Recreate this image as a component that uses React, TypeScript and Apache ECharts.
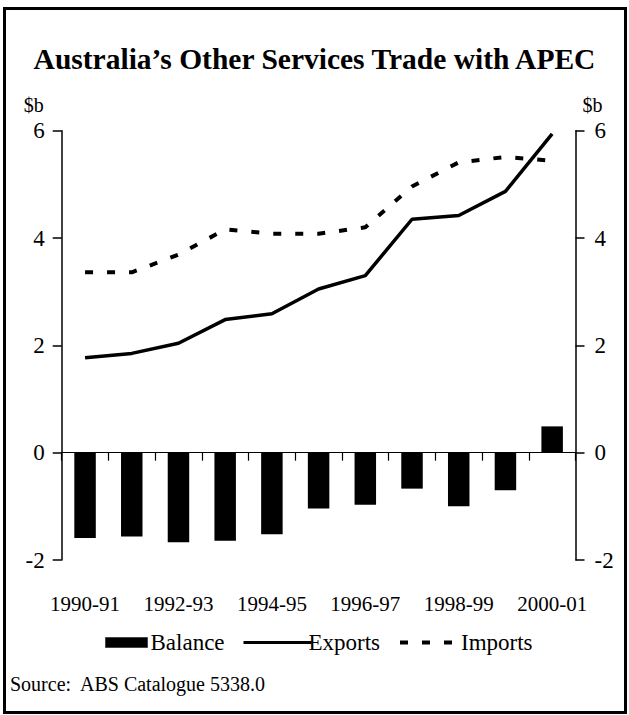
import React, { useEffect, useRef } from "react";
import * as echarts from "echarts";

const categories = [
  "1990-91", "1991-92", "1992-93", "1993-94", "1994-95", "1995-96",
  "1996-97", "1997-98", "1998-99", "1999-00", "2000-01",
];
const balance = [-1.59, -1.56, -1.67, -1.64, -1.52, -1.04, -0.97, -0.67, -1.0, -0.7, 0.49];
const exportsData = [1.77, 1.85, 2.04, 2.48, 2.59, 3.05, 3.3, 4.35, 4.42, 4.87, 5.94];
const importsData = [3.36, 3.36, 3.69, 4.16, 4.08, 4.08, 4.2, 4.96, 5.41, 5.51, 5.44];
const yTicks = { min: -2, max: 6, interval: 2 };

const FONT = '"Liberation Serif", "Times New Roman", serif';

export default function App() {
  const ref = useRef<HTMLDivElement>(null);
  useEffect(() => {
    if (!ref.current) return;
    const chart = echarts.init(ref.current, undefined, { renderer: "svg" });
    const axisText = { fontFamily: FONT, fontSize: 21, color: "#000" };
    const yLabelText = { fontFamily: FONT, fontSize: 23, color: "#000" };
    const legendText = { fontFamily: FONT, fontSize: 23, color: "#000" };
    const yAxisBase = {
      type: "value",
      min: yTicks.min,
      max: yTicks.max,
      interval: yTicks.interval,
      splitLine: { show: false },
      axisLine: { show: true, lineStyle: { color: "#000", width: 1.5 } },
      axisTick: { show: true, length: 9, lineStyle: { color: "#000", width: 1.5 } },
      name: "$b",
      nameLocation: "end",
      nameGap: 16,
    };
    chart.setOption({
      animation: false,
      backgroundColor: "#fff",
      textStyle: { fontFamily: FONT },
      title: {
        text: "Australia\u2019s Other Services Trade with APEC",
        left: "center",
        top: 39,
        textStyle: { fontFamily: FONT, fontSize: 29.5, fontWeight: "bold", color: "#000" },
      },
      graphic: [
        {
          type: "rect",
          shape: { x: 4.5, y: 8.5, width: 621, height: 704 },
          style: { fill: "none", stroke: "#000", lineWidth: 3 },
          silent: true,
        },
        {
          type: "text",
          left: 10,
          top: 674,
          style: { text: "Source:  ABS Catalogue 5338.0", font: `20px ${FONT}`, fill: "#000" },
        },
      ],
      grid: { left: 61.7, right: 53.5, top: 130.7, bottom: 155, containLabel: false },
      legend: [
        {
          data: ["Balance"],
          left: 100,
          top: 626,
          itemWidth: 42,
          itemHeight: 10,
          icon: "rect",
          itemStyle: { borderColor: "#444", borderWidth: 1 },
          textStyle: { ...legendText, padding: [0, 0, 0, -2] },
        },
        {
          data: ["Exports"],
          left: 237,
          top: 626,
          itemWidth: 68,
          itemHeight: 12,
          itemStyle: { opacity: 0 },
          lineStyle: { width: 3 },
          textStyle: { ...legendText, padding: [0, 0, 0, -8] },
        },
        {
          data: ["Imports"],
          left: 393,
          top: 626,
          itemWidth: 62,
          itemHeight: 12,
          itemStyle: { opacity: 0 },
          lineStyle: { width: 4 },
          textStyle: { ...legendText, padding: [0, 0, 0, -6] },
        },
      ],
      xAxis: [
        {
          type: "category",
          data: categories,
          position: "bottom",
          axisLine: { show: true, onZero: true, lineStyle: { color: "#000", width: 1.2 } },
          axisTick: { show: true, interval: 0, length: 8, lineStyle: { color: "#000", width: 1.2 } },
          axisLabel: { show: false },
          splitLine: { show: false },
        },
        {
          type: "category",
          data: categories,
          position: "bottom",
          axisLine: { show: false, onZero: false },
          axisTick: { show: false },
          axisLabel: { ...axisText, interval: 1, margin: 33 },
          splitLine: { show: false },
        },
      ],
      yAxis: [
        {
          ...yAxisBase,
          position: "left",
          axisLabel: { ...yLabelText, margin: 17 },
          nameTextStyle: { ...axisText, fontSize: 20, align: "right", padding: [0, 18, 0, 0] },
        },
        {
          ...yAxisBase,
          position: "right",
          axisLabel: { ...yLabelText, margin: 19 },
          nameTextStyle: { ...axisText, fontSize: 20, align: "left", padding: [0, 0, 0, 7] },
        },
      ],
      series: [
        {
          name: "Balance",
          type: "bar",
          data: balance,
          xAxisIndex: 0,
          yAxisIndex: 0,
          barWidth: "46%",
          itemStyle: { color: "#000", borderColor: "#000", borderWidth: 0 },
        },
        {
          name: "Exports",
          type: "line",
          data: exportsData,
          xAxisIndex: 0,
          yAxisIndex: 0,
          symbol: "none",
          itemStyle: { color: "#000" },
          lineStyle: { color: "#000", width: 3.5 },
        },
        {
          name: "Imports",
          type: "line",
          data: importsData,
          xAxisIndex: 0,
          yAxisIndex: 0,
          symbol: "none",
          itemStyle: { color: "#000" },
          lineStyle: { color: "#000", width: 4, type: [8, 14] },
        },
      ],
    });
    return () => chart.dispose();
  }, []);
  return (
    <div
      ref={ref}
      style={{ position: "absolute", left: 0, top: 0, width: 629, height: 715 }}
    />
  );
}
